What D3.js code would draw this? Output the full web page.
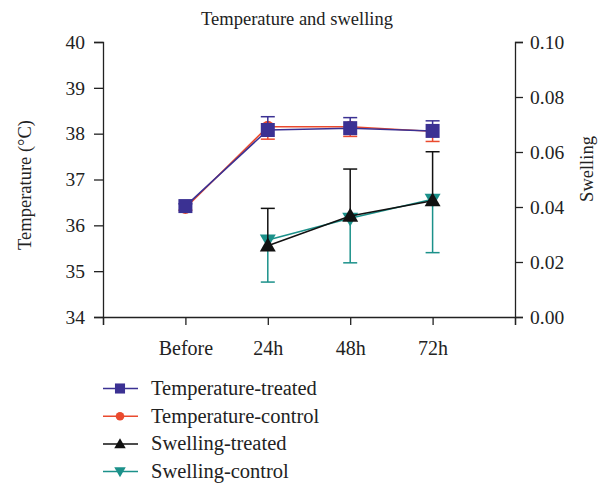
<!DOCTYPE html>
<html><head><meta charset="utf-8">
<script src="https://cdn.jsdelivr.net/npm/d3@7"></script>
<style>body{margin:0;background:#fff}svg{display:block}text{font-family:"Liberation Serif","DejaVu Serif",serif;fill:#222}</style>
</head><body><svg id="c" width="607" height="483"></svg>
<script>
const categories = ["Before", "24h", "48h", "72h"];
const tempTreated = [36.42, 38.08, 38.12, 38.06];
const tempTreatedErr = [0.05, 0.29, 0.23, 0.22];
const tempControl = [36.38, 38.15, 38.15, 38.05];
const tempControlErr = [0.05, 0.27, 0.21, 0.22];
const swellTreated = [null, 0.0259, 0.0367, 0.0423];
const swellTreatedErr = [null, 0.0136, 0.0171, 0.0178];
const swellControl = [null, 0.0280, 0.0359, 0.0428];
const swellControlErr = [null, 0.0153, 0.0162, 0.0194];
const leftTicks = [34, 35, 36, 37, 38, 39, 40];
const rightTicks = [0, 0.02, 0.04, 0.06, 0.08, 0.10];

const svg = d3.select("#c");
const x = d3.scaleLinear().domain([0, 5]).range([103, 515]);
const yL = d3.scaleLinear().domain([34, 40]).range([317, 42]);
const yR = d3.scaleLinear().domain([0, 0.1]).range([317, 42]);
const col = {tt: "#3b3193", tc: "#ea4a2e", st: "#111111", sc: "#1b918a"};

// axes
const gL = svg.append("g").attr("transform", "translate(103,0)")
  .call(d3.axisLeft(yL).tickValues(leftTicks).tickFormat(d3.format("d")).tickSize(9).tickPadding(9));
const gR = svg.append("g").attr("transform", "translate(515,0)")
  .call(d3.axisRight(yR).tickValues(rightTicks).tickFormat(d3.format(".2f")).tickSize(8).tickPadding(7));
const gB = svg.append("g").attr("transform", "translate(0,317)")
  .call(d3.axisBottom(x).tickValues([0, 1, 2, 3, 4, 5]).tickFormat(i => categories[i - 1] || "").tickSize(8).tickPadding(12));
[gL, gR, gB].forEach(g => {
  g.select(".domain").attr("stroke", "#222").attr("stroke-width", 1.3);
  g.selectAll(".tick line").attr("stroke", "#222").attr("stroke-width", 1.3);
  g.selectAll("text").style("font-size", "19.5px").style("font-family", '"Liberation Serif",serif').attr("fill", "#222");
});
gB.selectAll(".tick text").attr("dy", "0.9em").style("font-size", "20px");

// titles
svg.append("text").attr("x", 297).attr("y", 25).attr("text-anchor", "middle").style("font-size", "18.5px").text("Temperature and swelling");
svg.append("text").attr("transform", "translate(31,185) rotate(-90)").attr("text-anchor", "middle").style("font-size", "18.5px").text("Temperature (°C)");
svg.append("text").attr("transform", "translate(593,169) rotate(-90)").attr("text-anchor", "middle").style("font-size", "18.5px").text("Swelling");

const idx = [0, 1, 2, 3];
function series(vals, errs, y, color, marker, errDir) {
  const pts = idx.filter(i => vals[i] !== null).map(i => ({i, v: vals[i], e: errs[i]}));
  const g = svg.append("g");
  pts.forEach(p => {
    const cx = x(p.i + 1);
    const lo = errDir <= 0 ? p.v - p.e : p.v;
    const hi = errDir >= 0 ? p.v + p.e : p.v;
    g.append("line").attr("x1", cx).attr("x2", cx).attr("y1", y(lo)).attr("y2", y(hi)).attr("stroke", color).attr("stroke-width", 1.5);
    if (errDir >= 0) g.append("line").attr("x1", cx - 7).attr("x2", cx + 7).attr("y1", y(hi)).attr("y2", y(hi)).attr("stroke", color).attr("stroke-width", 1.5);
    if (errDir <= 0) g.append("line").attr("x1", cx - 7).attr("x2", cx + 7).attr("y1", y(lo)).attr("y2", y(lo)).attr("stroke", color).attr("stroke-width", 1.5);
  });
  g.append("path").datum(pts).attr("fill", "none").attr("stroke", color).attr("stroke-width", 1.5)
    .attr("d", d3.line().x(p => x(p.i + 1)).y(p => y(p.v)));
  pts.forEach(p => drawMarker(g, marker, x(p.i + 1), y(p.v), color, 1));
}
function drawMarker(g, marker, cx, cy, color, s) {
  if (marker === "square") g.append("rect").attr("x", cx - 7 * s).attr("y", cy - 7 * s).attr("width", 14 * s).attr("height", 14 * s).attr("fill", color);
  else if (marker === "circle") g.append("circle").attr("cx", cx).attr("cy", cy).attr("r", 6 * s).attr("fill", color);
  else if (marker === "up") g.append("path").attr("d", d3.symbol(d3.symbolTriangle, 110 * s * s)()).attr("transform", `translate(${cx},${cy + 1})`).attr("fill", color);
  else g.append("path").attr("d", d3.symbol(d3.symbolTriangle, 110 * s * s)()).attr("transform", `translate(${cx},${cy - 1}) rotate(180)`).attr("fill", color);
}
series(swellControl, swellControlErr, yR, col.sc, "down", -1);
series(swellTreated, swellTreatedErr, yR, col.st, "up", 1);
series(tempControl, tempControlErr, yL, col.tc, "circle", -1);
series(tempTreated, tempTreatedErr, yL, col.tt, "square", 1);

// legend
const legend = [
  ["Temperature-treated", col.tt, "square"],
  ["Temperature-control", col.tc, "circle"],
  ["Swelling-treated", col.st, "up"],
  ["Swelling-control", col.sc, "down"]
];
legend.forEach((d, k) => {
  const ly = 388.5 + k * 27.7;
  const g = svg.append("g");
  g.append("line").attr("x1", 103).attr("x2", 138).attr("y1", ly).attr("y2", ly).attr("stroke", d[1]).attr("stroke-width", 1.5);
  drawMarker(g, d[2], 120, ly, d[1], 0.72);
  g.append("text").attr("x", 151).attr("y", ly + 6.5).style("font-size", "20.5px").text(d[0]);
});
</script></body></html>
